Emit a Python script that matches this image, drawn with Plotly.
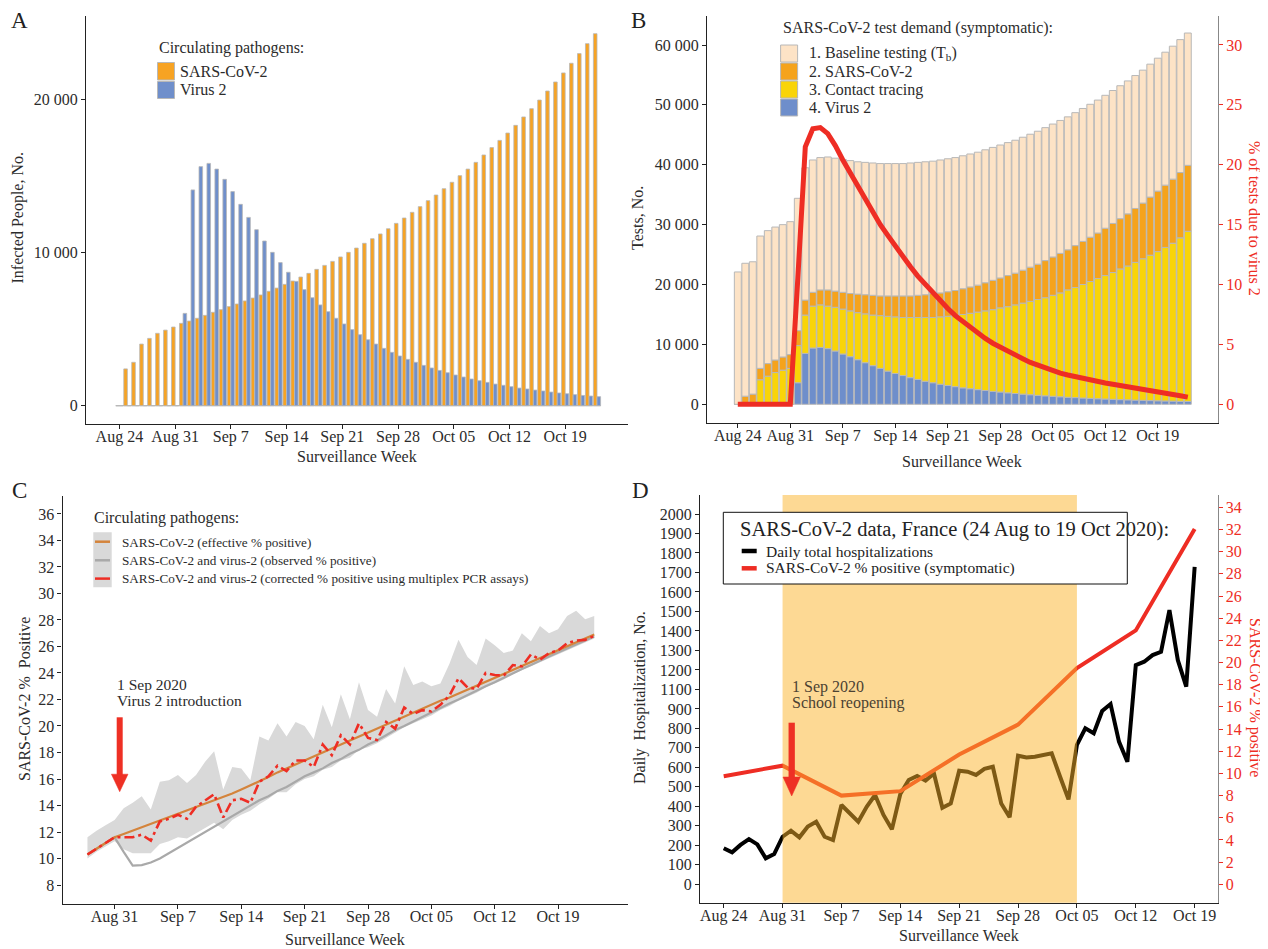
import numpy as np
import pandas as pd
import plotly.graph_objects as go

W, H = 1268, 949          # target screenshot size
OFF = 8                   # default page margin of the html body
FW, FH = W - OFF, H - OFF  # figure size so that it ends at the window edge
FONT = "Liberation Serif"
TXT = "#2b2b2b"
RED = "#EE2D24"
DAY_MS = 86400000

# ------------------------------------------------------------------ data
# Panel A: infected people per day
a_dates = pd.date_range("2020-08-24", "2020-10-23", freq="D")
a_sars_cov_2 = [0, 2400, 2830, 4020, 4390, 4720, 4930, 5130, 5370, 5520, 5700, 5890, 6090, 6260,
                6460, 6630, 6830, 7020, 7220, 7460, 7670, 7910, 8130, 8390, 8630, 8890, 9150, 9410,
                9700, 10000, 10280, 10590, 10890, 11200, 11540, 11890, 12240, 12610, 12980, 13370,
                13740, 14150, 14570, 15000, 15430, 15870, 16350, 16830, 17300, 17780, 18280, 18830,
                19370, 19930, 20520, 21110, 21700, 22330, 22960, 23610, 24260]
a_virus_2 = [0, 0, 0, 0, 0, 0, 0, 0, 6020, 14070, 15590, 15800, 15430, 14760, 13960, 13130, 12280,
             11480, 10740, 10000, 9330, 8700, 8110, 7570, 7040, 6570, 6130, 5700, 5330, 4960, 4630,
             4300, 4020, 3740, 3480, 3240, 3020, 2830, 2630, 2460, 2300, 2150, 2000, 1870, 1740,
             1630, 1520, 1410, 1330, 1240, 1150, 1090, 1020, 960, 890, 830, 780, 720, 670, 630, 590]

# Panel B: test demand (stack components) and % of tests due to virus 2
b_dates = pd.date_range("2020-08-24", "2020-10-23", freq="D")
b_baseline = [22100, 22200, 22100, 22100, 22200, 22200, 22100, 22200, 22100, 22100, 22100, 22100,
              22200, 22200, 22200, 22200, 22100, 22100, 22100, 22100, 22100, 22100, 22100, 22200,
              22200, 22200, 22100, 22200, 22200, 22200, 22200, 22200, 22200, 22200, 22200, 22200,
              22200, 22200, 22200, 22200, 22200, 22200, 22200, 22200, 22200, 22200, 22200, 22200,
              22200, 22200, 22200, 22200, 22200, 22200, 22200, 22200, 22200, 22200, 22200, 22200, 22100]
b_sars_cov_2 = [0, 1350, 1700, 1900, 2100, 2100, 2200, 2300, 2500, 2500, 2300, 2500, 2700, 2700,
                2800, 2900, 3100, 3200, 3300, 3300, 3400, 3500, 3600, 3600, 3700, 3800, 4000, 4000,
                4100, 4200, 4300, 4400, 4500, 4700, 4900, 5000, 5200, 5300, 5500, 5700, 5900, 6200,
                6400, 6600, 6700, 7000, 7200, 7400, 7600, 7900, 8200, 8400, 8700, 9000, 9300, 9700,
                10100, 10400, 10700, 10900, 11000]
b_contact_tracing = [0, 0, 0, 4100, 4700, 5300, 5700, 6000, 6200, 6400, 7000, 7100, 7100, 7300,
                     7500, 7650, 7850, 8150, 8450, 8800, 9150, 9450, 9700, 10050, 10350, 10650,
                     10900, 11250, 11550, 11850, 12250, 12600, 12950, 13300, 13650, 14050, 14380,
                     14800, 15200, 15600, 16000, 16380, 16860, 17340, 17920, 18380, 18950, 19510,
                     20070, 20620, 21170, 21820, 22360, 23000, 23640, 24280, 24910, 25640, 26370,
                     27300, 28430]
b_virus_2 = [0, 0, 0, 0, 0, 0, 0, 0, 3600, 8500, 9400, 9500, 9300, 8900, 8400, 7950, 7450, 6950,
             6450, 6000, 5550, 5150, 4800, 4450, 4150, 3850, 3600, 3350, 3150, 2950, 2750, 2600,
             2450, 2300, 2150, 2050, 1920, 1800, 1700, 1600, 1500, 1420, 1340, 1260, 1180, 1120,
             1050, 990, 930, 880, 830, 780, 740, 700, 660, 620, 590, 560, 530, 500, 470]
b_pct_virus_2 = [0, 0, 0, 0, 0, 0, 0, 0, 10.5, 21.5, 23.0, 23.1, 22.6, 21.6, 20.4, 19.3, 18.2,
                 17.1, 16.0, 15.0, 14.1, 13.2, 12.3, 11.5, 10.7, 10.0, 9.3, 8.6, 8.0, 7.4, 6.9, 6.4,
                 5.9, 5.5, 5.1, 4.75, 4.4, 4.1, 3.8, 3.5, 3.25, 3.0, 2.8, 2.6, 2.45, 2.3, 2.15, 2.0,
                 1.9, 1.78, 1.67, 1.57, 1.47, 1.38, 1.3, 1.22, 1.1, 0.95, 0.85, 0.72, 0.6]

# Panel C: % positive
c_dates = pd.date_range("2020-08-28", "2020-10-23", freq="D")
c_effective = [10.3, 10.75, 11.2, 11.6, 11.85, 12.1, 12.35, 12.6, 12.85, 13.1, 13.35, 13.6, 13.85,
               14.1, 14.4, 14.65, 14.9, 15.2, 15.5, 15.85, 16.15, 16.5, 16.8, 17.15, 17.45, 17.75,
               18.05, 18.35, 18.65, 18.95, 19.25, 19.55, 19.85, 20.15, 20.45, 20.7, 21.0, 21.3,
               21.6, 21.9, 22.15, 22.45, 22.75, 23.0, 23.3, 23.6, 23.9, 24.2, 24.5, 24.8, 25.1,
               25.4, 25.7, 26.0, 26.3, 26.6, 26.9]
c_observed = [10.3, 10.75, 11.2, 11.6, 10.5, 9.46, 9.5, 9.7, 10.0, 10.4, 10.8, 11.2, 11.6, 12.0,
              12.4, 12.8, 13.2, 13.6, 14.0, 14.4, 14.7, 15.1, 15.4, 15.8, 16.2, 16.5, 16.8, 17.2,
              17.5, 17.9, 18.2, 18.6, 18.9, 19.3, 19.7, 20.0, 20.35, 20.7, 21.0, 21.35, 21.7, 22.0,
              22.35, 22.7, 23.0, 23.3, 23.65, 24.0, 24.3, 24.6, 24.95, 25.25, 25.55, 25.85, 26.15,
              26.45, 26.75]
c_corrected = [10.3, 10.75, 11.2, 11.6, 11.6, 11.6, 11.8, 11.35, 12.8, 13.0, 13.3, 13.0, 13.9, 14.4,
               14.85, 13.1, 14.4, 14.5, 14.2, 15.8, 16.2, 17.0, 16.6, 17.4, 17.4, 16.9, 18.6, 17.8,
               19.3, 18.6, 20.2, 19.1, 18.95, 20.3, 19.8, 21.4, 20.9, 21.2, 21.1, 21.6, 22.3, 23.6,
               22.9, 22.8, 24.0, 23.85, 23.8, 24.6, 24.5, 25.4, 25.0, 25.5, 25.7, 26.25, 26.45,
               26.5, 26.8]
c_band_low = [10.0, 10.5, 10.9, 11.3, 10.7, 10.4, 10.4, 10.4, 11.1, 11.3, 11.6, 11.5, 11.9, 12.3,
              12.7, 12.2, 12.9, 13.3, 13.6, 14.1, 14.5, 15.0, 15.0, 15.6, 16.0, 16.2, 16.7, 16.9,
              17.4, 17.6, 18.2, 18.4, 18.7, 19.1, 19.5, 19.9, 20.2, 20.5, 20.8, 21.2, 21.5, 21.9,
              22.2, 22.5, 22.9, 23.2, 23.5, 23.9, 24.2, 24.5, 24.8, 25.1, 25.4, 25.7, 26.0, 26.3, 26.6]
c_band_high = [11.6, 12.1, 12.5, 12.9, 13.8, 14.2, 14.7, 13.7, 15.8, 15.9, 16.3, 15.7, 16.3, 17.3,
               18.1, 15.2, 16.9, 16.8, 15.9, 19.2, 18.9, 20.2, 19.2, 20.3, 20.0, 19.0, 21.6, 19.9,
               22.4, 20.5, 23.3, 21.2, 20.7, 22.8, 21.7, 24.5, 23.1, 23.35, 23.0, 23.2, 24.7, 26.5,
               25.2, 24.6, 26.6, 26.1, 25.5, 25.7, 27.0, 26.4, 27.55, 27.0, 27.3, 28.3, 28.7, 28.05,
               28.3]

# Panel D: France data
d_dates = pd.date_range("2020-08-24", "2020-10-19", freq="D")
d_hospitalizations = [185, 164, 202, 232, 205, 133, 155, 244, 275, 241, 296, 321, 244, 227, 407,
                      364, 321, 398, 458, 356, 282, 463, 535, 556, 532, 569, 393, 415, 583, 578,
                      561, 592, 603, 415, 344, 660, 651, 655, 663, 672, 552, 436, 715, 800, 775,
                      889, 925, 732, 629, 1125, 1142, 1176, 1193, 1407, 1150, 1014, 1629]
d_week_dates = pd.date_range("2020-08-24", "2020-10-19", freq="7D")
d_pct_positive = [9.75, 10.7, 8.0, 8.4, 11.7, 14.4, 19.5, 22.9, 32.05]
school_period = ("2020-08-31", "2020-10-05")

# ticks
week_ticks = pd.date_range("2020-08-24", "2020-10-19", freq="7D")
week_labels = ["Aug 24", "Aug 31", "Sep 7", "Sep 14", "Sep 21", "Sep 28", "Oct 05", "Oct 12", "Oct 19"]
a_yticks = [0, 10000, 20000]
b_yticks = [0, 10000, 20000, 30000, 40000, 50000, 60000]
b_y2ticks = [0, 5, 10, 15, 20, 25, 30]
c_yticks = list(range(8, 37, 2))
d_yticks = list(range(0, 2000, 100))
d_ylabels = ["0", "100", "200", "300", "400", "500", "600", "700", "800", "900",
             "1100", "1200", "1300", "1400", "1500", "1600", "1700", "1800", "1900", "2000"]
d_y2ticks = list(range(0, 35, 2))

# colours
A_ORANGE, A_BLUE = "#F7A323", "#6F8FCB"
B_PEACH, B_ORANGE, B_YELLOW, B_BLUE = "#FDE3C6", "#F5A31C", "#F9D408", "#6E8ECB"
OUTLINE = "#B8B8B8"


# ------------------------------------------------------------------ helpers
def fx(p):
    return (p - OFF) / FW


def fy(p):
    return 1 - (p - OFF) / FH


def date_at(origin, origin_px, ppd, px):
    t = pd.Timestamp(origin) + pd.Timedelta(days=(px - origin_px) / ppd)
    return t.strftime("%Y-%m-%d %H:%M:%S")


def fmt_thousands(v):
    return f"{v:,}".replace(",", " ")


fig = go.Figure()

# ------------------------------------------------------------------ panel A
bw_a = 0.45 * DAY_MS
fig.add_trace(go.Bar(x=a_dates, y=a_sars_cov_2, name="SARS-CoV-2", width=bw_a, offset=-bw_a,
                     marker=dict(color=A_ORANGE, line=dict(color=OUTLINE, width=0.8)),
                     xaxis="x", yaxis="y", showlegend=False))
fig.add_trace(go.Bar(x=a_dates, y=a_virus_2, name="Virus 2", width=bw_a, offset=0,
                     marker=dict(color=A_BLUE, line=dict(color=OUTLINE, width=0.8)),
                     xaxis="x", yaxis="y", showlegend=False))

# ------------------------------------------------------------------ panel B (stacked with bases)
v2 = np.array(b_virus_2, float)
ct = np.array(b_contact_tracing, float)
sc = np.array(b_sars_cov_2, float)
bl = np.array(b_baseline, float)
bw_b = 0.92 * DAY_MS
layers = [
    ("4. Virus 2", v2, np.zeros_like(v2), B_BLUE),
    ("3. Contact tracing", ct, v2, B_YELLOW),
    ("2. SARS-CoV-2", sc, v2 + ct, B_ORANGE),
    ("1. Baseline testing", bl, v2 + ct + sc, B_PEACH),
]
for name, vals, base, col in layers:
    fig.add_trace(go.Bar(x=b_dates, y=vals, base=base, name=name, width=bw_b, offset=-bw_b / 2,
                         marker=dict(color=col, line=dict(color=OUTLINE, width=1)),
                         xaxis="x2", yaxis="y2", showlegend=False))
fig.add_trace(go.Scatter(x=b_dates, y=b_pct_virus_2, mode="lines", name="% of tests due to virus 2",
                         line=dict(color=RED, width=5), xaxis="x2", yaxis="y5", showlegend=False))

# ------------------------------------------------------------------ panel C
fig.add_trace(go.Scatter(x=c_dates, y=c_band_low, mode="lines", line=dict(width=0),
                         xaxis="x3", yaxis="y3", showlegend=False, hoverinfo="skip"))
fig.add_trace(go.Scatter(x=c_dates, y=c_band_high, mode="lines", line=dict(width=0),
                         fill="tonexty", fillcolor="#D9D9D9",
                         xaxis="x3", yaxis="y3", showlegend=False, hoverinfo="skip"))
fig.add_trace(go.Scatter(x=c_dates, y=c_observed, mode="lines",
                         name="SARS-CoV-2 and virus-2 (observed % positive)",
                         line=dict(color="#A9A9A9", width=2.2), xaxis="x3", yaxis="y3", showlegend=False))
fig.add_trace(go.Scatter(x=c_dates, y=c_effective, mode="lines",
                         name="SARS-CoV-2 (effective % positive)",
                         line=dict(color="#D4843C", width=2.2), xaxis="x3", yaxis="y3", showlegend=False))
fig.add_trace(go.Scatter(x=c_dates, y=c_corrected, mode="lines",
                         name="SARS-CoV-2 and virus-2 (corrected % positive using multiplex PCR assays)",
                         line=dict(color=RED, width=2.6, dash="10px,4px,3px,4px"),
                         xaxis="x3", yaxis="y3", showlegend=False))

# ------------------------------------------------------------------ panel D
fig.add_trace(go.Scatter(x=d_dates, y=d_hospitalizations, mode="lines", name="Daily total hospitalizations",
                         line=dict(color="#000000", width=4), xaxis="x4", yaxis="y4", showlegend=False))
fig.add_trace(go.Scatter(x=d_week_dates, y=d_pct_positive, mode="lines",
                         name="SARS-CoV-2 % positive (symptomatic)",
                         line=dict(color=RED, width=4), xaxis="x4", yaxis="y6", showlegend=False))

# ------------------------------------------------------------------ axes
tickfont = dict(family=FONT, size=16, color=TXT)
common = dict(showline=True, linecolor="#222222", linewidth=1.2, ticks="outside", ticklen=4,
              tickwidth=1, tickcolor="#222222", showgrid=False, zeroline=False, tickfont=tickfont)
xcommon = dict(common, ticklabelstandoff=-6)
red_axis = dict(showline=True, linecolor="#888888", linewidth=1.2, ticks="outside", ticklen=4,
                tickwidth=1, tickcolor=RED, showgrid=False, zeroline=False,
                tickfont=dict(family=FONT, size=16, color=RED))

layout = dict(
    width=FW, height=FH, margin=dict(l=0, r=0, t=0, b=0),
    paper_bgcolor="white", plot_bgcolor="white",
    font=dict(family=FONT, color=TXT), barmode="overlay", showlegend=False,
    # A
    xaxis=dict(xcommon, domain=[fx(86), fx(628)], anchor="y", type="date",
               range=[date_at("2020-08-24", 119.4, 7.96, 86), date_at("2020-08-24", 119.4, 7.96, 628)],
               tickvals=week_ticks, ticktext=week_labels),
    yaxis=dict(common, domain=[fy(424), fy(16)], anchor="x", range=[-1193, 25412],
               tickvals=a_yticks, ticktext=[fmt_thousands(v) for v in a_yticks]),
    # B
    xaxis2=dict(xcommon, domain=[fx(707), fx(1218)], anchor="y2", type="date",
                range=[date_at("2020-08-24", 737.8, 7.5, 707), date_at("2020-08-24", 737.8, 7.5, 1218)],
                tickvals=week_ticks, ticktext=week_labels),
    yaxis2=dict(common, domain=[fy(423), fy(16)], anchor="x2", range=[-3123, 64843],
                tickvals=b_yticks, ticktext=[fmt_thousands(v) for v in b_yticks]),
    yaxis5=dict(red_axis, overlaying="y2", side="right", anchor="x2", range=[-1.561, 32.42],
                tickvals=b_y2ticks),
    # C
    xaxis3=dict(xcommon, domain=[fx(62.5), fx(628)], anchor="y3", type="date",
                range=[date_at("2020-08-31", 114.6, 9.05, 62.5), date_at("2020-08-31", 114.6, 9.05, 628)],
                tickvals=week_ticks[1:], ticktext=week_labels[1:]),
    yaxis3=dict(common, domain=[fy(904), fy(495.7)], anchor="x3", range=[6.566, 37.38],
                tickvals=c_yticks),
    # D
    xaxis4=dict(xcommon, domain=[fx(700), fx(1217.5)], anchor="y4", type="date",
                range=[date_at("2020-08-24", 723.7, 8.41, 700), date_at("2020-08-24", 723.7, 8.41, 1217.5)],
                tickvals=week_ticks, ticktext=week_labels),
    yaxis4=dict(common, domain=[fy(902.7), fy(495)], anchor="x4", range=[-94.4, 1997.5],
                tickvals=d_yticks, ticktext=d_ylabels),
    yaxis6=dict(red_axis, overlaying="y4", side="right", anchor="x4", range=[-1.659, 35.11],
                tickvals=d_y2ticks),
)
fig.update_layout(**layout)

# ------------------------------------------------------------------ shapes
shapes = []
# zero baseline of panel A (outline of empty bars)
shapes.append(dict(type="line", xref="x", yref="y",
                   x0=a_dates[0] - pd.Timedelta(hours=11), x1=a_dates[-1] + pd.Timedelta(hours=11),
                   y0=0, y1=0, line=dict(color=OUTLINE, width=1.2), layer="below"))
# school period shading in D (drawn above lines, semi-transparent)
shapes.append(dict(type="rect", xref="x4", yref="y4 domain", x0=school_period[0], x1=school_period[1],
                   y0=0, y1=1, fillcolor="rgba(251,179,41,0.5)", line=dict(width=0), layer="above"))


def prect(x0, y0, x1, y1, fill, line_col=None, lw=0):
    return dict(type="rect", xref="paper", yref="paper", x0=fx(x0), x1=fx(x1), y0=fy(y1), y1=fy(y0),
                fillcolor=fill, line=dict(color=line_col or fill, width=lw), layer="above")


def pline(x0, x1, y, col, lw):
    return dict(type="line", xref="paper", yref="paper", x0=fx(x0), x1=fx(x1), y0=fy(y), y1=fy(y),
                line=dict(color=col, width=lw), layer="above")


def arrow(xc, y_top, y_tip, head_h, head_w, shaft_w, col="#EE3024"):
    y_head = y_tip - head_h
    out = [dict(type="line", xref="paper", yref="paper", x0=fx(xc), x1=fx(xc),
                y0=fy(y_top), y1=fy(y_head + 1), line=dict(color=col, width=shaft_w), layer="above")]
    path = "M{},{} L{},{} L{},{} Z".format(fx(xc - head_w / 2), fy(y_head), fx(xc + head_w / 2), fy(y_head),
                                          fx(xc), fy(y_tip))
    out.append(dict(type="path", xref="paper", yref="paper", path=path, fillcolor=col,
                    line=dict(color=col, width=0.5), layer="above"))
    return out


# legend A swatches
shapes.append(prect(157.5, 62.5, 174.5, 80, A_ORANGE, OUTLINE, 1))
shapes.append(prect(157.5, 81.5, 174.5, 98.5, A_BLUE, OUTLINE, 1))
# legend B swatches
for i, col in enumerate([B_PEACH, B_ORANGE, B_YELLOW, B_BLUE]):
    y0 = 45 + 18 * i
    shapes.append(prect(780.6, y0, 797.6, y0 + 17, col, OUTLINE, 1))
# legend C
shapes.append(prect(93.3, 532.3, 111.7, 587.3, "#D9D9D9"))
shapes.append(pline(95, 110, 541.7, "#D4843C", 2.5))
shapes.append(pline(95, 110, 560.3, "#A9A9A9", 2.5))
shapes.append(pline(95, 110, 578.6, RED, 2.5))
# legend D box and swatches
shapes.append(prect(723.3, 512.3, 1127.3, 584, "white", "#111111", 1))
shapes.append(pline(741.7, 756.7, 551, "#000000", 4.5))
shapes.append(pline(741.7, 756.7, 568.3, RED, 4.5))
# event arrows
shapes += arrow(119.7, 717.3, 791.7, 17.5, 16.6, 6)
shapes += arrow(791.7, 722.7, 796, 19, 17.4, 6.3)
fig.update_layout(shapes=shapes)

# ------------------------------------------------------------------ annotations
ann = []


def text(x, y, s, size=16, xanchor="left", color=TXT, angle=0):
    ann.append(dict(x=fx(x), y=fy(y), xref="paper", yref="paper", text=s, showarrow=False,
                    xanchor=xanchor, yanchor="middle", textangle=angle, borderpad=0,
                    font=dict(family=FONT, size=size, color=color)))


# panel letters
for lx, ly, s in [(19, 20, "A"), (638, 20, "B"), (19.5, 490, "C"), (640, 490.5, "D")]:
    text(lx, ly, s, size=23, xanchor="center", color="#222222")

# axis titles
text(17.5, 218, "Infected People, No.", xanchor="center", angle=-90)
text(357, 456, "Surveillance Week", xanchor="center")
text(637, 218, "Tests, No.", xanchor="center", angle=-90)
text(962, 461, "Surveillance Week", xanchor="center")
text(1255, 218, "% of tests due to virus 2", xanchor="center", angle=90, color=RED)
text(24, 699, "SARS-CoV-2 %  Positive", xanchor="center", angle=-90)
text(345, 939, "Surveillance Week", xanchor="center")
text(640, 698, "Daily  Hospitalization, No.", xanchor="center", angle=-90)
text(959, 935, "Surveillance Week", xanchor="center")
text(1255, 697, "SARS-CoV-2 % positive", xanchor="center", angle=90, color=RED)

# legend A
text(158, 48.3, "Circulating pathogens:")
text(179, 71, "SARS-CoV-2")
text(179, 90, "Virus 2")
# legend B
text(781.8, 28.3, "SARS-CoV-2 test demand (symptomatic):")
for i, s in enumerate(["1. Baseline testing (T<sub>b</sub>)", "2. SARS-CoV-2", "3. Contact tracing", "4. Virus 2"]):
    text(807.5, 53.5 + 18 * i, s)
# legend C
text(93.3, 517.7, "Circulating pathogens:")
for y, s in [(542.2, "SARS-CoV-2 (effective % positive)"),
             (560.5, "SARS-CoV-2 and virus-2 (observed % positive)"),
             (578.6, "SARS-CoV-2 and virus-2 (corrected % positive using multiplex PCR assays)")]:
    text(120.7, y, s, size=13.2)
# legend D
text(739.3, 529.3, "SARS-CoV-2 data, France (24 Aug to 19 Oct 2020):", size=20.5, color="#222222")
text(765, 551, "Daily total hospitalizations", size=15.5, color="#222222")
text(765, 568.3, "SARS-CoV-2 % positive (symptomatic)", size=15.5, color="#222222")

# event notes
text(115.8, 684, "1 Sep 2020", size=15.5)
text(115.8, 700.7, "Virus 2 introduction", size=15.5)
text(791, 687, "1 Sep 2020", size=16, color="#4B4232")
text(791, 703, "School reopening", size=16, color="#4B4232")

fig.update_layout(annotations=ann)
fig.write_html("out.html")
